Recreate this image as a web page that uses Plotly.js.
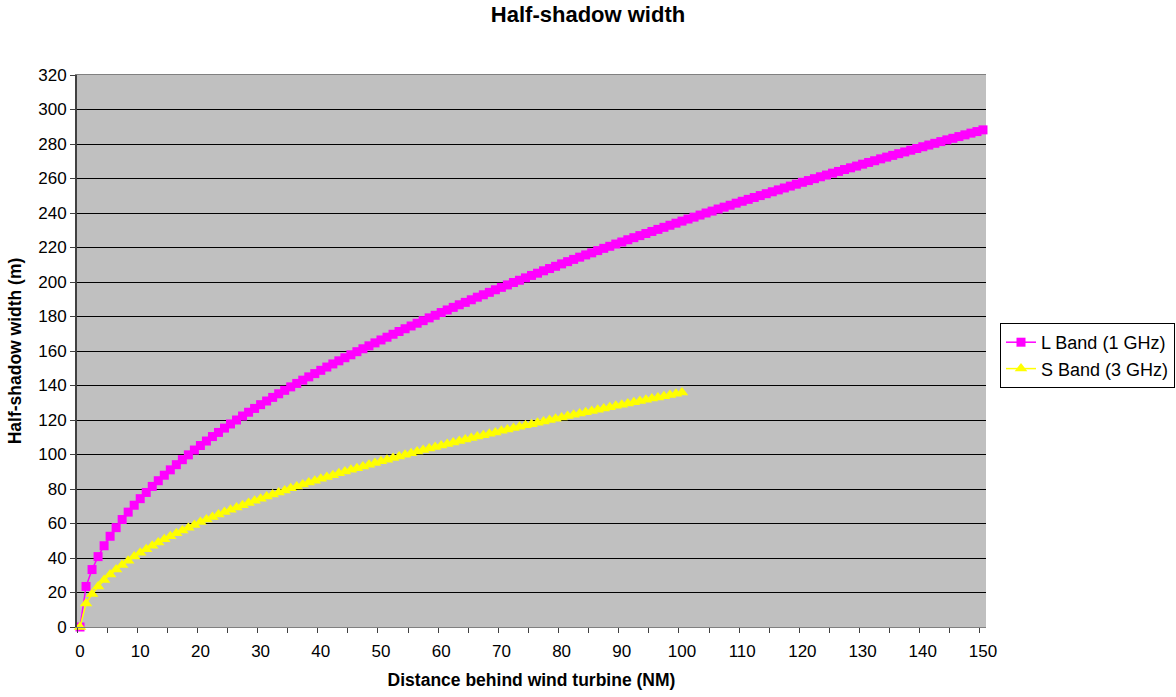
<!DOCTYPE html>
<html>
<head>
<meta charset="utf-8">
<script src="https://cdn.plot.ly/plotly-3.0.1.min.js"></script>
<style>
  html, body { margin: 0; padding: 0; background: #ffffff; }
  #chart { width: 1176px; height: 697px; }
</style>
</head>
<body>
<div id="chart"></div>
<script>
// Distance behind the turbine, in nautical miles
const distanceL = [0,1,2,3,4,5,6,7,8,9,10,11,12,13,14,15,16,17,18,19,20,21,22,23,24,25,26,27,28,29,30,
  31,32,33,34,35,36,37,38,39,40,41,42,43,44,45,46,47,48,49,50,51,52,53,54,55,56,57,58,59,60,
  61,62,63,64,65,66,67,68,69,70,71,72,73,74,75,76,77,78,79,80,81,82,83,84,85,86,87,88,89,90,
  91,92,93,94,95,96,97,98,99,100,101,102,103,104,105,106,107,108,109,110,111,112,113,114,115,116,117,118,119,120,
  121,122,123,124,125,126,127,128,129,130,131,132,133,134,135,136,137,138,139,140,141,142,143,144,145,146,147,148,149,150];

const distanceS = [0,1,2,3,4,5,6,7,8,9,10,11,12,13,14,15,16,17,18,19,20,21,22,23,24,25,26,27,28,29,30,
  31,32,33,34,35,36,37,38,39,40,41,42,43,44,45,46,47,48,49,50,51,52,53,54,55,56,57,58,59,60,
  61,62,63,64,65,66,67,68,69,70,71,72,73,74,75,76,77,78,79,80,81,82,83,84,85,86,87,88,89,90,
  91,92,93,94,95,96,97,98,99,100];

// Half-shadow width (m), L band (1 GHz)
const widthL = [0,23.5,33.3,40.8,47.1,52.6,57.6,62.3,66.6,70.6,74.4,78.0,81.5,84.8,88.0,91.1,94.1,97.0,99.8,102.6,105.2,
  107.8,110.4,112.8,115.3,117.7,120.0,122.3,124.5,126.7,128.9,131.0,133.1,135.2,137.2,139.2,141.2,143.1,145.0,146.9,148.8,
  150.7,152.5,154.3,156.1,157.8,159.6,161.3,163.0,164.7,166.4,168.0,169.7,171.3,172.9,174.5,176.1,177.6,179.2,180.7,182.3,
  183.8,185.3,186.8,188.2,189.7,191.2,192.6,194.0,195.5,196.9,198.3,199.7,201.0,202.4,203.8,205.1,206.5,207.8,209.1,210.5,
  211.8,213.1,214.4,215.7,216.9,218.2,219.5,220.7,222.0,223.2,224.5,225.7,226.9,228.1,229.3,230.5,231.7,232.9,234.1,235.3,
  236.5,237.6,238.8,240.0,241.1,242.3,243.4,244.5,245.7,246.8,247.9,249.0,250.1,251.2,252.3,253.4,254.5,255.6,256.7,257.8,
  258.8,259.9,261.0,262.0,263.1,264.1,265.2,266.2,267.2,268.3,269.3,270.3,271.4,272.4,273.4,274.4,275.4,276.4,277.4,278.4,
  279.4,280.4,281.4,282.4,283.3,284.3,285.3,286.3,287.2,288.2];

// Half-shadow width (m), S band (3 GHz)
const widthS = [0,13.6,19.2,23.5,27.2,30.4,33.3,35.9,38.4,40.8,43.0,45.1,47.1,49.0,50.8,52.6,54.3,56.0,57.6,59.2,60.8,
  62.3,63.7,65.2,66.6,67.9,69.3,70.6,71.9,73.2,74.4,75.6,76.8,78.0,79.2,80.4,81.5,82.6,83.7,84.8,85.9,
  87.0,88.0,89.1,90.1,91.1,92.1,93.1,94.1,95.1,96.1,97.0,98.0,98.9,99.8,100.7,101.7,102.6,103.5,104.3,105.2,
  106.1,107.0,107.8,108.7,109.5,110.4,111.2,112.0,112.8,113.7,114.5,115.3,116.1,116.9,117.6,118.4,119.2,120.0,120.7,121.5,
  122.3,123.0,123.8,124.5,125.2,126.0,126.7,127.4,128.2,128.9,129.6,130.3,131.0,131.7,132.4,133.1,133.8,134.5,135.2,135.9];

const seriesNames = ['L Band (1 GHz)', 'S Band (3 GHz)'];
const xTickVals = [0,10,20,30,40,50,60,70,80,90,100,110,120,130,140,150];

const FONT = 'Liberation Sans, Arial, Helvetica, sans-serif';

const traces = [
  {
    x: distanceL, y: widthL, name: seriesNames[0],
    type: 'scatter', mode: 'lines+markers', cliponaxis: false,
    line: { color: '#FF00FF', width: 1.5 },
    marker: { symbol: 'square', size: 9, color: '#FF00FF' }
  },
  {
    x: distanceS, y: widthS, name: seriesNames[1],
    type: 'scatter', mode: 'lines+markers', cliponaxis: false,
    line: { color: '#FFFF00', width: 1.5 },
    marker: { symbol: 'triangle-up', size: 11, color: '#FFFF00' }
  }
];

const layout = {
  width: 1176, height: 697,
  margin: { l: 77, r: 190, t: 75, b: 70, autoexpand: false },
  paper_bgcolor: '#ffffff',
  plot_bgcolor: '#C0C0C0',
  font: { family: FONT, color: '#000000', size: 17 },
  title: {
    text: '<b>Half-shadow width</b>',
    font: { family: FONT, size: 22, color: '#000000' },
    x: 0.5, xanchor: 'center',
    y: 1 - 14 / 697, yref: 'container', yanchor: 'middle'
  },
  xaxis: {
    range: [-0.5, 150.5],
    tickmode: 'array', tickvals: xTickVals,
    ticks: 'outside', ticklen: 9, tickcolor: 'rgba(0,0,0,0)',
    tickfont: { family: FONT, size: 17, color: '#000000' },
    minor: { tick0: -0.5, dtick: 5, ticks: 'outside', ticklen: 5, tickcolor: '#404040', tickwidth: 1, showgrid: false },
    showgrid: false, zeroline: false,
    showline: true, linecolor: '#808080', linewidth: 1, mirror: true,
    title: { text: '<b>Distance behind wind turbine (NM)</b>', font: { family: FONT, size: 17.5, color: '#000000' }, standoff: 13 }
  },
  yaxis: {
    range: [0, 320], dtick: 20, tick0: 0,
    ticks: 'outside', ticklen: 5, tickcolor: '#404040', tickwidth: 1,
    tickfont: { family: FONT, size: 17, color: '#000000' },
    showgrid: true, gridcolor: '#000000', gridwidth: 1,
    zeroline: true, zerolinecolor: '#000000', zerolinewidth: 1,
    showline: true, linecolor: '#404040', linewidth: 2,
    title: { text: '<b>Half-shadow width (m)</b>', font: { family: FONT, size: 17.5, color: '#000000' }, standoff: 12 }
  },
  legend: {
    x: (1000 - 77) / 909, xanchor: 'left',
    y: (627 - 323) / 552, yanchor: 'top',
    bgcolor: '#ffffff', bordercolor: '#000000', borderwidth: 1,
    font: { family: FONT, size: 18, color: '#000000' },
    tracegroupgap: 0, itemwidth: 30
  },
  showlegend: true
};

Plotly.newPlot('chart', traces, layout, { displayModeBar: false, staticPlot: true });
</script>
</body>
</html>
